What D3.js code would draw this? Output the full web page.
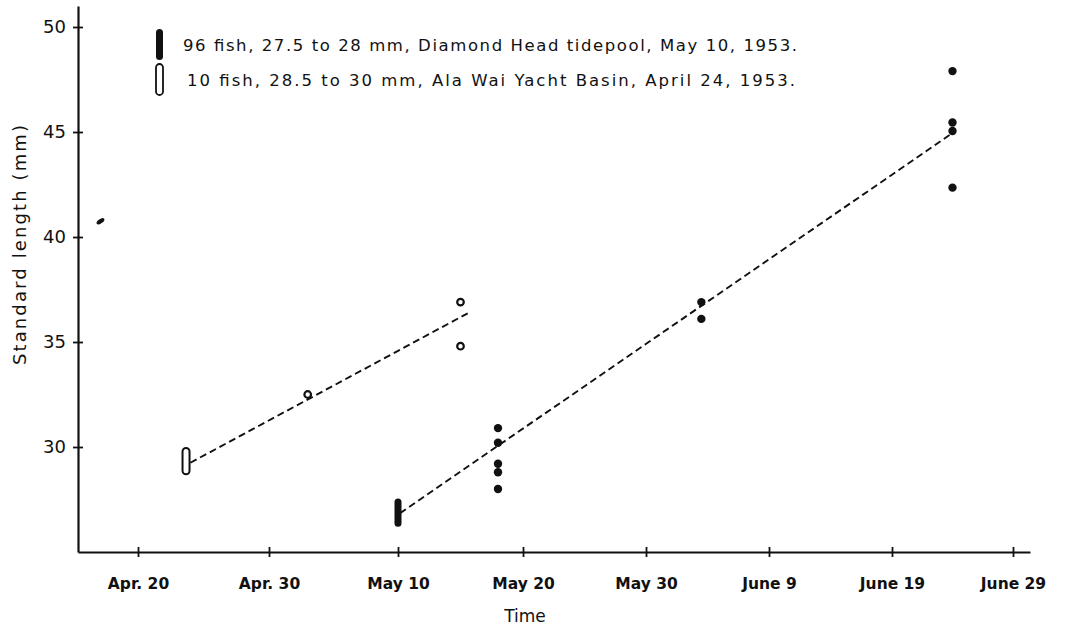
<!DOCTYPE html>
<html><head><meta charset="utf-8">
<script src="https://cdn.jsdelivr.net/npm/d3@7"></script>
<style>body{margin:0;background:#fff}</style>
</head><body><svg id="c" width="1076" height="629"></svg>
<script>
// ---------- DATA ----------
const tickDates  = ["1953-04-20","1953-04-30","1953-05-10","1953-05-20","1953-05-30","1953-06-09","1953-06-19","1953-06-29"];
const tickLabels = ["Apr. 20","Apr. 30","May 10","May 20","May 30","June 9","June 19","June 29"];
const yTicks = [30,35,40,45,50];

// Ala Wai Yacht Basin (open symbols)
const openDates  = ["1953-05-03","1953-05-15","1953-05-15"];
const openValues = [32.5, 36.9, 34.8];
const openRangeDate = "1953-04-23T16:00";
const openRange = [28.7, 29.95];
const openFitDates  = ["1953-04-24T00:00","1953-05-15T20:00"];
const openFitValues = [29.25, 36.45];

// Diamond Head tidepool (filled symbols)
const filledDates  = ["1953-05-18","1953-05-18","1953-05-18","1953-05-18","1953-05-18",
                      "1953-06-03T12:00","1953-06-03T12:00",
                      "1953-06-24","1953-06-24","1953-06-24","1953-06-24"];
const filledValues = [30.9, 30.2, 29.2, 28.8, 28.0, 36.9, 36.1, 47.9, 45.45, 45.05, 42.35];
const filledRangeDate = "1953-05-10";
const filledRange = [26.2, 27.55];
const filledFitDates  = ["1953-05-10T04:00","1953-06-24T00:00"];
const filledFitValues = [26.85, 44.95];

// stray mark near the y axis
const strayDates = ["1953-04-17"];
const strayValues = [40.75];

const legendLabels = [
  "96 fish, 27.5 to 28 mm, Diamond Head tidepool, May 10, 1953.",
  "10 fish, 28.5 to 30 mm, Ala Wai Yacht Basin, April 24, 1953."
];

// ---------- SETUP ----------
const parse = s => new Date(s.length === 10 ? s + "T00:00" : s);
const svg = d3.select("#c");
const font = "'DejaVu Sans', sans-serif";

// hand-drawn axis: tick positions are slightly irregular -> polylinear time scale
const xDomain = [parse("1953-04-15T05:00"), ...tickDates.map(parse), parse("1953-06-30T10:00")];
const xRange  = [78, 138, 269, 398, 523, 646, 769, 892, 1013, 1030];
const x = d3.scaleTime().domain(xDomain).range(xRange);
const y = d3.scaleLinear().domain([25, 51]).range([552, 6]);

// ---------- AXES ----------
const xAxis = d3.axisBottom(x)
  .tickValues(tickDates.map(parse))
  .tickFormat((d, i) => tickLabels[i])
  .tickSizeInner(5).tickSizeOuter(0).tickPadding(21);
const gx = svg.append("g").attr("transform", `translate(0,${y(25)})`).call(xAxis);
gx.select(".domain").attr("stroke", "#111").attr("stroke-width", 2.2);
gx.selectAll(".tick line").attr("y1", -5).attr("y2", 5).attr("stroke", "#111").attr("stroke-width", 1.8);
gx.selectAll(".tick text").attr("font-family", font).attr("font-size", 15.5)
  .attr("font-weight", "bold").attr("fill", "#111");

const yAxis = d3.axisLeft(y).tickValues(yTicks).tickSizeInner(5).tickSizeOuter(0).tickPadding(7);
const gy = svg.append("g").attr("transform", `translate(${x(xDomain[0])},0)`).call(yAxis);
gy.select(".domain").attr("stroke", "#111").attr("stroke-width", 2.2);
gy.selectAll(".tick line").attr("x1", -5).attr("x2", 5).attr("stroke", "#111").attr("stroke-width", 1.8);
gy.selectAll(".tick text").attr("font-family", font).attr("font-size", 18).attr("fill", "#111");

svg.append("text").attr("x", 525).attr("y", 622).attr("text-anchor", "middle")
  .attr("font-family", font).attr("font-size", 17).attr("fill", "#111").text("Time");
svg.append("text").attr("transform", "translate(26,245) rotate(-90)").attr("text-anchor", "middle")
  .attr("font-family", font).attr("font-size", 18).attr("fill", "#111")
  .attr("textLength", 240).attr("lengthAdjust", "spacing").text("Standard length (mm)");

// ---------- FIT LINES ----------
const line = d3.line().x(d => x(d[0])).y(d => y(d[1]));
const fits = [
  openFitDates.map((d, i) => [parse(d), openFitValues[i]]),
  filledFitDates.map((d, i) => [parse(d), filledFitValues[i]])
];
svg.selectAll("path.fit").data(fits).join("path").attr("class", "fit")
  .attr("d", line).attr("fill", "none").attr("stroke", "#111")
  .attr("stroke-width", 1.9).attr("stroke-dasharray", "7,4");

// ---------- RANGE BARS ----------
const bw = 7;
svg.append("rect")
  .attr("x", x(parse(openRangeDate)) - bw / 2).attr("width", bw)
  .attr("y", y(openRange[1])).attr("height", y(openRange[0]) - y(openRange[1]))
  .attr("rx", 3.5).attr("fill", "#fff").attr("stroke", "#111").attr("stroke-width", 2);
svg.append("rect")
  .attr("x", x(parse(filledRangeDate)) - bw / 2).attr("width", bw)
  .attr("y", y(filledRange[1])).attr("height", y(filledRange[0]) - y(filledRange[1]))
  .attr("rx", 3.5).attr("fill", "#111");

// ---------- POINTS ----------
svg.selectAll("circle.open").data(openDates.map((d, i) => [parse(d), openValues[i]]))
  .join("circle").attr("class", "open")
  .attr("cx", d => x(d[0])).attr("cy", d => y(d[1])).attr("r", 3.3)
  .attr("fill", "#fff").attr("stroke", "#111").attr("stroke-width", 2.2);
svg.selectAll("circle.filled").data(filledDates.map((d, i) => [parse(d), filledValues[i]]))
  .join("circle").attr("class", "filled")
  .attr("cx", d => x(d[0])).attr("cy", d => y(d[1])).attr("r", 4.2).attr("fill", "#111");
svg.selectAll("ellipse.stray").data(strayDates.map((d, i) => [parse(d), strayValues[i]]))
  .join("ellipse").attr("class", "stray")
  .attr("transform", d => `translate(${x(d[0])},${y(d[1])}) rotate(-35)`)
  .attr("rx", 4.5).attr("ry", 2.2).attr("fill", "#111");

// ---------- LEGEND ----------
const lg = svg.append("g");
const legendRows = [
  {label: legendLabels[0], fill: "#111", stroke: "none", ty: 51, len: 614},
  {label: legendLabels[1], fill: "#fff", stroke: "#111", ty: 86, len: 608}
];
legendRows.forEach((r, i) => {
  lg.append("rect").attr("x", 156).attr("y", r.ty - 22).attr("width", 7).attr("height", 31)
    .attr("rx", 3.5).attr("fill", r.fill).attr("stroke", r.stroke).attr("stroke-width", 1.8);
  lg.append("text").attr("x", i === 0 ? 183 : 187).attr("y", r.ty)
    .attr("font-family", font).attr("font-size", 16.5).attr("fill", "#111")
    .attr("textLength", r.len).attr("lengthAdjust", "spacing").text(r.label);
});
</script>
</body></html>
